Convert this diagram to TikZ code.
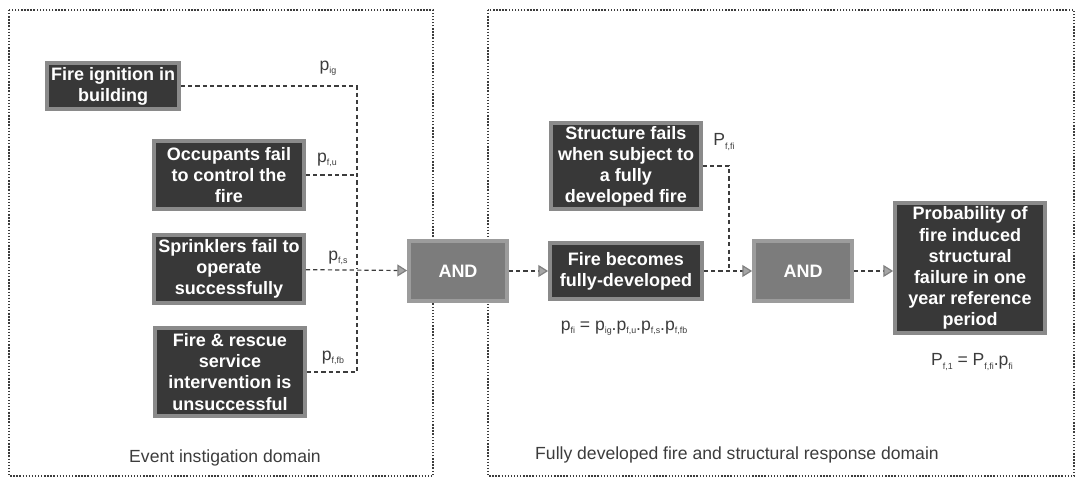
\documentclass[tikz,border=0pt]{standalone}
\usepackage{fontspec}
\setmainfont{Liberation Sans}
\usetikzlibrary{arrows.meta}
\definecolor{boxfill}{HTML}{383838}
\definecolor{boxedge}{HTML}{8A8A8A}
\definecolor{gatefill}{HTML}{7C7C7C}
\definecolor{gateedge}{HTML}{9C9C9C}
\definecolor{ink}{HTML}{3C3C3C}
\newcommand{\sbs}[2]{#1\raisebox{-0.35ex}{\fontsize{6.3}{7}\selectfont #2}}

\begin{document}
\begin{tikzpicture}[x=0.025cm,y=-0.025cm,
   event/.style={rectangle,fill=boxfill,draw=boxedge,line width=2.6pt,text=white,align=center,inner sep=0pt,font=\fontsize{12.8}{15}\selectfont\bfseries},
   gate/.style={event,fill=gatefill,draw=gateedge,minimum width=2.45cm,minimum height=1.5cm},
   link/.style={draw=ink,line width=0.85pt,dash pattern=on 3pt off 2.2pt},
   gatetip/.style={-{Triangle[length=7pt,width=8.5pt,fill=gray!70,color=gray]}},
   prob/.style={text=ink,font=\fontsize{12.5}{14}\selectfont,inner sep=1pt},
   realm/.style={draw=ink,line width=1pt,dash pattern=on 1pt off 1.2pt}]
   \useasboundingbox (0,0) rectangle (1079,478);
   \draw[realm] (9,10) rectangle (433,476);
   \draw[realm] (488,10) rectangle (1074,476);
   \begin{scope}[every node/.style={event}]
    \node[minimum width=3.3cm,minimum height=1.15cm] (ign) at (113,86) {Fire ignition in\\building};
    \node[minimum width=3.75cm,minimum height=1.7cm] (occ) at (229,175) {Occupants fail\\to control the\\fire};
    \node[minimum width=3.75cm,minimum height=1.7cm] (spr) at (229,269) {Sprinklers fail to\\operate\\successfully};
    \node[minimum width=3.75cm,minimum height=2.2cm] (res) at (230,372) {Fire \& rescue\\service\\intervention is\\unsuccessful};
    \node[gate] (and1) at (458,271) {AND};
    \node[minimum width=3.75cm,minimum height=2.15cm] (str) at (626,166) {Structure fails\\when subject to\\a fully\\developed fire};
    \node[minimum width=3.8cm,minimum height=1.4cm] (dev) at (626,271) {Fire becomes\\fully-developed};
    \node[gate] (and2) at (803,271) {AND};
    \node[minimum width=3.75cm,minimum height=3.25cm] (prb) at (970,268) {Probability of\\fire induced\\structural\\failure in one\\year reference\\period};
   \end{scope}
   \coordinate (jn1) at (357,269);
   \coordinate (jn2) at (729,271);
   \draw[link] (ign) -| (jn1);
   \draw[link] (res) -| (jn1);
   \draw[link] (occ) -- (occ -| jn1);
   \draw[link,gatetip] (spr) -- (and1);
   \draw[link,gatetip] (and1) -- (dev);
   \draw[link] (str) -| (jn2);
   \draw[link,gatetip] (dev) -- (and2);
   \draw[link,gatetip] (and2) -- (and2 -| prb.west);
   \begin{scope}[every node/.style={prob}]
    \node (lig) at (328,68) {\sbs{p}{ig}};
    \node (lfu) at (327,160) {\sbs{p}{f,u}};
    \node (lfs) at (338,258) {\sbs{p}{f,s}};
    \node (lfb) at (333,358) {\sbs{p}{f,fb}};
    \node (lfi) at (724,142) {\sbs{P}{f,fi}};
    \node (eqfi) at (624,328) {\sbs{p}{fi} = \sbs{p}{ig}.\sbs{p}{f,u}.\sbs{p}{f,s}.\sbs{p}{f,fb}};
    \node (eq1) at (972,362) {\sbs{P}{f,1} = \sbs{P}{f,fi}.\sbs{p}{fi}};
    \node (dom1) at (225,458) {Event instigation domain};
    \node (dom2) at (737,455) {Fully developed fire and structural response domain};
   \end{scope}
\end{tikzpicture}
\end{document}
